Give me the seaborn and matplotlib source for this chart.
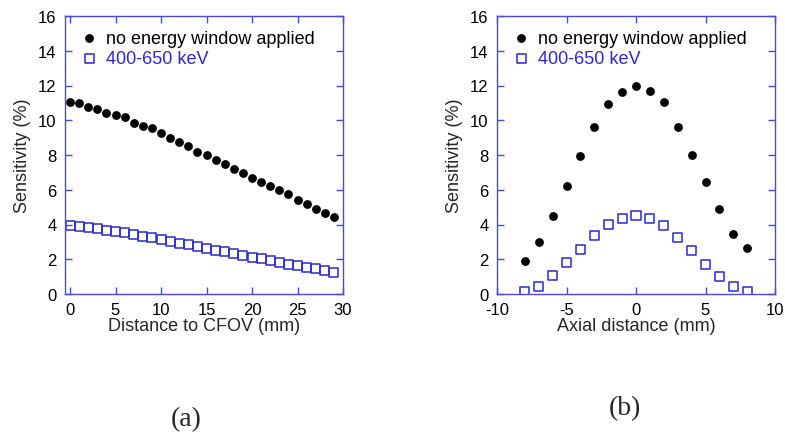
import numpy as np
import pandas as pd
import matplotlib
matplotlib.use('Agg')
import matplotlib.pyplot as plt
import seaborn as sns

# data
dist_cfov = list(range(0, 30))
sens_cfov_all = [11.06, 11.02, 10.79, 10.63, 10.44, 10.33, 10.16, 9.87, 9.66, 9.58,
                 9.25, 8.95, 8.74, 8.53, 8.18, 7.99, 7.70, 7.49, 7.22, 6.94,
                 6.69, 6.42, 6.19, 5.98, 5.73, 5.40, 5.19, 4.89, 4.69, 4.41]
sens_cfov_win = [3.93, 3.89, 3.81, 3.76, 3.68, 3.60, 3.54, 3.41, 3.31, 3.28,
                 3.14, 3.03, 2.93, 2.84, 2.74, 2.62, 2.51, 2.43, 2.34, 2.24,
                 2.11, 2.03, 1.95, 1.82, 1.72, 1.65, 1.55, 1.48, 1.38, 1.25]

axial_dist = list(range(-8, 9))
sens_axial_all = [1.92, 2.97, 4.48, 6.23, 7.97, 9.64, 10.94, 11.63, 11.98,
                  11.71, 11.04, 9.62, 8.01, 6.46, 4.89, 3.47, 2.62]
sens_axial_win = [0.15, 0.46, 1.07, 1.80, 2.55, 3.35, 3.99, 4.37, 4.54,
                  4.37, 3.97, 3.28, 2.49, 1.72, 1.00, 0.44, 0.15]

label_all = 'no energy window applied'
label_win = '400-650 keV'
blue = '#2a2ad0'
spine_blue = '#4a4ae0'

sns.set_theme(style='white')
plt.rcParams['font.family'] = ['Liberation Sans', 'DejaVu Sans']
plt.rcParams['axes.unicode_minus'] = False

fig = plt.figure(figsize=(7.85, 4.39), dpi=100)
ax1 = fig.add_axes([65 / 785, 1 - 295 / 439, 278 / 785, 278 / 439])
ax2 = fig.add_axes([497 / 785, 1 - 295 / 439, 278 / 785, 278 / 439])


def draw_panel(ax, x, y_all, y_win, xlim, xticks, xlabel):
    sns.scatterplot(x=x, y=y_all, ax=ax, color='black', marker='o', s=40,
                    edgecolor='black', linewidth=0, label=label_all, legend=False)
    sns.scatterplot(x=x, y=y_win, ax=ax, marker='s', s=42,
                    facecolors='none', edgecolor=blue, linewidth=1.1,
                    label=label_win, legend=False)
    ax.set_xlim(*xlim)
    ax.set_ylim(0, 16)
    ax.set_xticks(xticks)
    ax.set_yticks(np.arange(0, 17, 2))
    ax.set_xlabel(xlabel, fontsize=13, labelpad=0)
    ax.set_ylabel('Sensitivity (%)', fontsize=13, labelpad=5)
    for sp in ax.spines.values():
        sp.set_color(spine_blue)
        sp.set_linewidth(1.0)
    ax.tick_params(direction='in', length=5, width=1, color=spine_blue,
                   top=True, right=True, bottom=True, left=True,
                   labelsize=12, labelcolor='black')
    ax.tick_params(axis='y', pad=6)
    ax.tick_params(axis='x', pad=6)
    leg = ax.legend(loc='upper left', frameon=False, fontsize=13,
                    handletextpad=0.3, borderaxespad=0.3, labelspacing=0.2,
                    handlelength=1.2, borderpad=0.45)
    leg.get_texts()[0].set_color('black')
    leg.get_texts()[1].set_color(blue)


draw_panel(ax1, dist_cfov, sens_cfov_all, sens_cfov_win,
           (-0.55, 30), [0, 5, 10, 15, 20, 25, 30], 'Distance to CFOV (mm)')
draw_panel(ax2, axial_dist, sens_axial_all, sens_axial_win,
           (-10, 10), [-10, -5, 0, 5, 10], 'Axial distance (mm)')

fig.text(186 / 785, 1 - 420 / 439, '(a)', ha='center', va='center',
         fontsize=20, family=['Liberation Serif', 'DejaVu Serif'])
fig.text(625 / 785, 1 - 409 / 439, '(b)', ha='center', va='center',
         fontsize=20, family=['Liberation Serif', 'DejaVu Serif'])

plt.savefig('out.png', dpi=100)
